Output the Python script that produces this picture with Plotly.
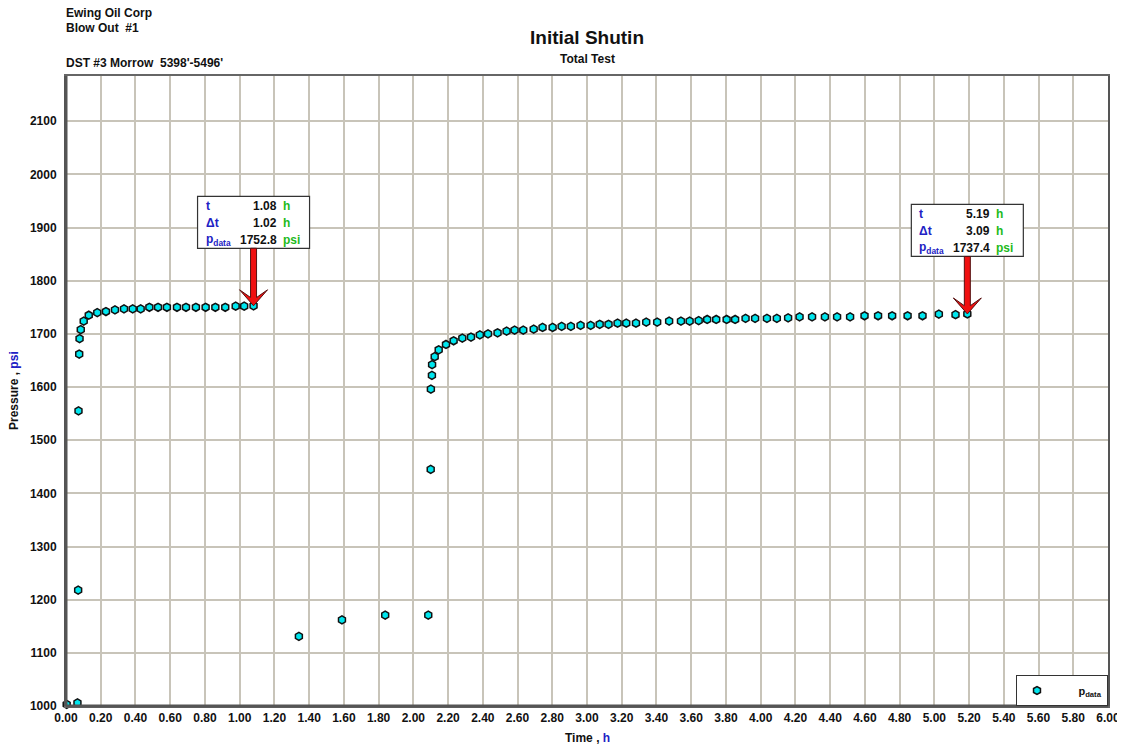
import plotly.graph_objects as go

# ---------------- data ----------------
t_hours = [0.004, 0.066, 0.070, 0.072, 0.076, 0.078, 0.085, 0.102, 0.131, 0.180,
           0.230, 0.282, 0.334, 0.384, 0.430, 0.480, 0.530, 0.581, 0.639, 0.691,
           0.748, 0.804, 0.860, 0.917, 0.977, 1.026, 1.080,
           1.341, 1.589, 1.838, 2.086,
           2.100, 2.101, 2.107, 2.108, 2.123, 2.146, 2.188, 2.232, 2.282, 2.332,
           2.383, 2.430, 2.485, 2.537, 2.583, 2.633, 2.693, 2.744, 2.802, 2.854,
           2.907, 2.963, 3.021, 3.073, 3.124, 3.176, 3.226, 3.282, 3.341, 3.404,
           3.473, 3.541, 3.591, 3.643, 3.692, 3.744, 3.804, 3.853, 3.913, 3.968,
           4.036, 4.093, 4.158, 4.224, 4.296, 4.370, 4.440, 4.515, 4.598, 4.676,
           4.757, 4.846, 4.932, 5.026, 5.122, 5.190]
p_psi = [1003, 1006, 1218, 1555, 1662, 1691, 1708, 1724, 1735, 1740,
         1742, 1745, 1747, 1747, 1747, 1750, 1750, 1750, 1750, 1750,
         1750, 1750, 1750, 1750, 1752, 1752, 1752.8,
         1131, 1162, 1171, 1171,
         1445, 1596, 1622, 1642, 1657, 1670, 1680, 1687, 1692, 1694,
         1698, 1700, 1702, 1705, 1707, 1707, 1709, 1712, 1712, 1714,
         1714, 1716, 1716, 1718, 1718, 1720, 1720, 1720, 1722, 1722,
         1724, 1724, 1724, 1725, 1727, 1727, 1727, 1727, 1729, 1729,
         1729, 1729, 1730, 1732, 1732, 1732, 1732, 1732, 1734, 1734,
         1734, 1734, 1734, 1737, 1736, 1737.4]

callout_t = [1.08, 5.19]
callout_dt = [1.02, 3.09]
callout_p = [1752.8, 1737.4]

x_ticks = [round(i * 0.2, 2) for i in range(31)]
y_ticks = list(range(1000, 2101, 100))

FONT = "Liberation Sans, Arial, sans-serif"
BLUE = "#2121C4"
GREEN = "#1DBA1D"
GRID = "#C8C4B9"

fig = go.Figure()
fig.add_trace(go.Scatter(
    x=t_hours, y=p_psi, mode="markers",
    name="&nbsp;&nbsp;&nbsp;&nbsp;&nbsp;&nbsp;&nbsp;p<sub>data</sub>",
    marker=dict(symbol="hexagon", size=8, color="#00E6EE",
                line=dict(color="#111111", width=1.5)),
    cliponaxis=False,
))

annotations = []
shapes = []

# header texts
hdr = [("Ewing Oil Corp", 63), ("Blow Out  #1", 48), ("DST #3 Morrow  5398'-5496'", 13)]
for txt, dy in hdr:
    annotations.append(dict(text=f"<b>{txt}</b>", xref="paper", yref="paper", x=0, y=1,
                            xanchor="left", yanchor="middle", xshift=-2, yshift=dy,
                            showarrow=False,
                            font=dict(family=FONT, size=12, color="#111111")))
annotations.append(dict(text="<b>Initial Shutin</b>", xref="paper", yref="paper", x=0.5, y=1,
                        xanchor="center", yanchor="middle", yshift=39, showarrow=False,
                        font=dict(family=FONT, size=19, color="#111111")))
annotations.append(dict(text="<b>Total Test</b>", xref="paper", yref="paper", x=0.5, y=1,
                        xanchor="center", yanchor="middle", yshift=17, showarrow=False,
                        font=dict(family=FONT, size=12, color="#111111")))
# axis titles
annotations.append(dict(text=f"<b>Pressure , <span style='color:{BLUE}'>psi</span></b>",
                        xref="paper", yref="paper", x=0, y=0.5, xanchor="center",
                        yanchor="middle", xshift=-52, textangle=-90, showarrow=False,
                        font=dict(family=FONT, size=12, color="#111111")))
annotations.append(dict(text=f"<b>Time , <span style='color:{BLUE}'>h</span></b>",
                        xref="paper", yref="paper", x=0.5, y=0, xanchor="center",
                        yanchor="middle", yshift=-32, showarrow=False,
                        font=dict(family=FONT, size=12, color="#111111")))

# callouts
for t, dt, p in zip(callout_t, callout_dt, callout_p):
    shapes.append(dict(type="rect", xref="x", yref="y", xsizemode="pixel", ysizemode="pixel",
                       xanchor=t, yanchor=p, x0=-56, x1=56, y0=57.5, y1=109.5,
                       fillcolor="white", line=dict(color="#333333", width=1.2), layer="above"))
    path = ("M -3 57.5 L -3 8.3 L -14 16 L 0 0 L 14 16 L 3 8.3 L 3 57.5 Z")
    shapes.append(dict(type="path", xref="x", yref="y", xsizemode="pixel", ysizemode="pixel",
                       xanchor=t, yanchor=p, path=path, fillcolor="#F01010",
                       line=dict(color="#551010", width=1), layer="above"))
    rows = [("t", f"{t:.2f}", "h", 99.5),
            ("Δt", f"{dt:.2f}", "h", 83),
            ("p<sub>data</sub>", f"{p:.1f}", "psi", 65.5)]
    for lab, val, unit, dy in rows:
        common = dict(xref="x", yref="y", x=t, y=p, yanchor="middle", yshift=dy,
                      showarrow=False)
        annotations.append(dict(text=f"<b>{lab}</b>", xanchor="left", xshift=-50,
                                font=dict(family=FONT, size=12, color=BLUE), **common))
        annotations.append(dict(text=f"<b>{val}</b>", xanchor="right", xshift=25,
                                font=dict(family=FONT, size=12, color="#111111"), **common))
        annotations.append(dict(text=f"<b>{unit}</b>", xanchor="left", xshift=27,
                                font=dict(family=FONT, size=12, color=GREEN), **common))

fig.update_layout(
    width=1125, height=750,
    margin=dict(l=58, r=25, t=68, b=52),
    paper_bgcolor="white", plot_bgcolor="white",
    font=dict(family=FONT, size=12, color="#111111"),
    showlegend=True,
    legend=dict(x=1, y=0, xanchor="right", yanchor="bottom", bgcolor="white",
                bordercolor="#333333", borderwidth=1, itemwidth=30,
                font=dict(family=FONT, size=11, color="#111111", weight="bold"),
                tracegroupgap=0),
    annotations=annotations,
    shapes=shapes,
)
fig.update_xaxes(range=[0, 6], tickvals=x_ticks, ticktext=[f"<b>{v:.2f}</b>" for v in x_ticks],
                 showgrid=True, gridcolor=GRID, gridwidth=1.6, zeroline=False,
                 showline=True, linecolor="#666666", linewidth=2, mirror=True,
                 ticks="", tickfont=dict(family=FONT, size=12, color="#111111"))
fig.update_yaxes(range=[1000, 2185], tickvals=y_ticks, ticktext=[f"<b>{v}</b>" for v in y_ticks],
                 showgrid=True, gridcolor=GRID, gridwidth=1.6, zeroline=False,
                 showline=True, linecolor="#555555", linewidth=2, mirror=True,
                 ticks="", ticklabelstandoff=5,
                 tickfont=dict(family=FONT, size=12, color="#111111"))

fig.add_shape(type="line", xref="paper", yref="paper", x0=0, x1=0, y0=0, y1=1,
              line=dict(color="#555555", width=3), layer="above")
fig.add_shape(type="line", xref="paper", yref="paper", x0=0, x1=1, y0=0, y1=0,
              line=dict(color="#555555", width=3), layer="above")

fig.write_html("out.html")
